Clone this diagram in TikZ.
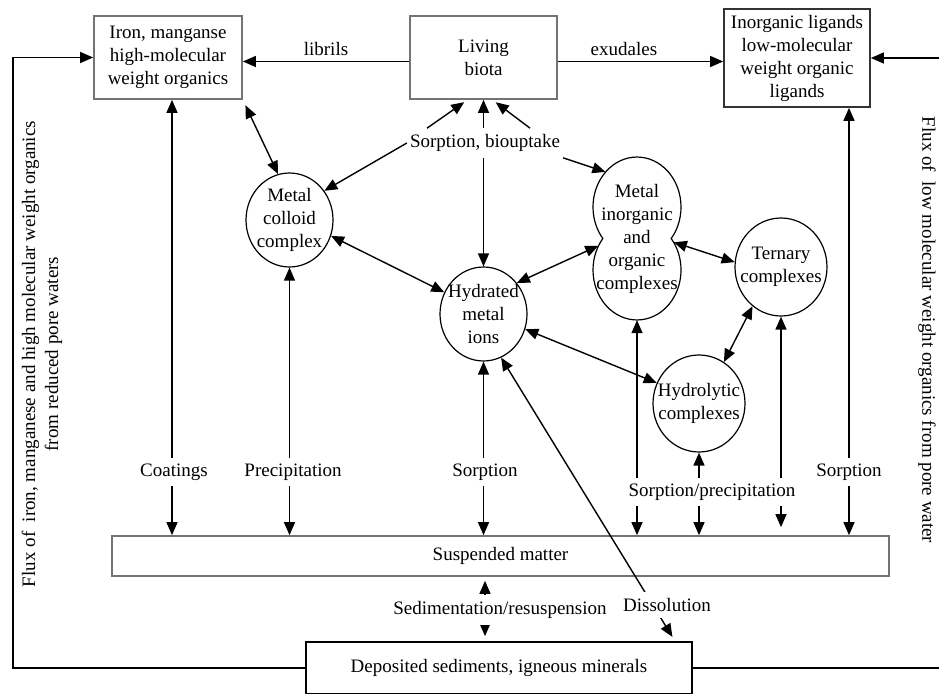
\documentclass[tikz,border=0pt]{standalone}
\usepackage{fontspec}
\setmainfont{Liberation Serif}
\usetikzlibrary{arrows.meta,shapes.geometric}

\tikzset{
  box/.style={rectangle, draw=black!55, line width=1.7pt, align=center, inner sep=0pt},
  blob/.style={ellipse, draw, line width=1.2pt, inner sep=0pt},
  lobe/.style={ellipse, inner sep=0pt, minimum width=88pt, minimum height=100pt},
  lbl/.style={fill=white, inner xsep=3pt, inner ysep=6pt},
  line/.style={line width=1.4pt},
  both/.style={line, <->},
  into/.style={line, ->},
  every label/.style={align=center}
}

\begin{document}
\begin{tikzpicture}[x=1pt, y=-1pt, >={Triangle[length=13pt,width=11pt]},
                    font=\fontsize{19}{23}\selectfont]
  \useasboundingbox (0,0) rectangle (939,693);

  % boxes
  \node[box, minimum width=148pt, minimum height=83pt] (iron) at (168,57.5)
    {Iron, manganse\\high-molecular\\weight organics};
  \node[box, minimum width=147pt, minimum height=83pt] (biota) at (483.5,57.5)
    {Living\\biota};
  \node[box, draw=black!80, minimum width=146pt, minimum height=98pt] (ligands) at (797,58)
    {Inorganic ligands\\low-molecular\\weight organic\\ligands};
  \node[box, minimum width=777pt, minimum height=40pt] (susp) at (500.5,556)
    {Suspended matter};
  \node[box, draw=black, minimum width=386pt, minimum height=52pt] (depo) at (499,668)
    {Deposited sediments, igneous minerals};

  % species
  \node[blob, minimum width=87pt, minimum height=94pt,
        label=center:{Metal\\colloid\\complex}] (coll) at (289.5,220) {};
  \node[blob, minimum width=87pt, minimum height=94pt,
        label=center:{Hydrated\\metal\\ions}] (hyd) at (483.5,314) {};
  \node[blob, minimum width=92pt, minimum height=98pt,
        label=center:{Ternary\\complexes}] (tern) at (781,267) {};
  \node[blob, minimum width=92pt, minimum height=97pt,
        label=center:{Hydrolytic\\complexes}] (hydro) at (699,403.5) {};
  \node[lobe] (mtop) at (637,207) {};
  \node[lobe] (mbot) at (637,270) {};
  \node[align=center] (mioc) at (637,238.5) {Metal\\inorganic\\and\\organic\\complexes};
  \draw[line width=1.2pt] ([xshift=34.2pt]mioc.center)
    arc[start angle=-39, end angle=219, x radius=44pt, y radius=50pt]
    arc[start angle=141, end angle=399, x radius=44pt, y radius=50pt] -- cycle;

  \coordinate (lft) at (13,360);
  \coordinate (rgt) at (945,360);

  % top row
  \draw[into] ([yshift=-4pt]biota.west) -- ([yshift=-4pt]biota.west -| iron.east)
    node[midway, above=2pt] {librils};
  \draw[into] ([yshift=-4pt]biota.east) -- ([yshift=-4pt]biota.east -| ligands.west)
    node[pos=0.4, above=2pt] {exudales};

  % pore water fluxes
  \draw[into] (depo.west) -| (lft) |- (iron.west);
  \draw[line] (depo.east) -- (depo.east -| rgt);
  \draw[into] (ligands.east -| rgt) -- (ligands.east);
  \node[rotate=90, align=center] (fluxl) at (42,354)
    {Flux of\ \ iron, manganese and high molecular weight organics\\from reduced pore waters};
  \node[rotate=-90] (fluxr) at (927,330)
    {Flux of\ \ low molecular weight organics from pore water};

  % biota
  \draw[both] (biota.south) -- (hyd.north);
  \node[lbl] (sorp) at (485,143) {Sorption, biouptake};
  \draw[into, shorten >=4pt] ([xshift=-58pt]sorp.north) -- ([xshift=-16pt]biota.south);
  \draw[into, shorten >=4pt] ([xshift=45pt]sorp.north) -- ([xshift=9pt]biota.south);
  \draw[into] (sorp.west) -- (coll.40);
  \draw[into] (sorp.south east) -- (mtop.132);

  % exchange between species
  \draw[both, shorten <=6pt] (iron.south east) -- (coll.104);
  \draw[both] (coll.-21) -- (hyd.151);
  \draw[both] (hyd.43) -- (mbot.148);
  \draw[both] (mbot.37) -- (tern.174);
  \draw[both] (tern.234) -- (hydro.59);
  \draw[both] (hyd.-20) -- (hydro.154);

  % to suspended matter
  \foreach \n in {coll,hyd,mbot,hydro}
    \draw[both] (\n.south) -- (\n.south |- susp.north);
  \draw[both, shorten >=8pt] (tern.south) -- (tern.south |- susp.north);
  \draw[both] ([xshift=4pt]iron.south) -- ([xshift=4pt]iron.south |- susp.north);
  \draw[both] ([xshift=52pt]ligands.south) -- ([xshift=52pt]ligands.south |- susp.north);
  \node[lbl] (coat) at (174,472) {Coatings};
  \node[lbl] (prec) at (293,472) {Precipitation};
  \node[lbl] (sorpa) at (485,472) {Sorption};
  \node[lbl] (sorpb) at (849,472) {Sorption};
  \node[lbl] (sorpc) at (712,492) {Sorption/precipitation};

  % sediments
  \draw[both, shorten <=4pt, shorten >=5pt] ([xshift=-15.5pt]susp.south)
    -- ([xshift=-15.5pt]susp.south |- depo.north);
  \node[lbl] (sedi) at (500,610) {Sedimentation/resuspension};
  \draw[both, shorten <=5pt] ([xshift=176pt]depo.north) -- (hyd.-68);
  \node[lbl] (diss) at (667,605) {Dissolution};
\end{tikzpicture}
\end{document}
